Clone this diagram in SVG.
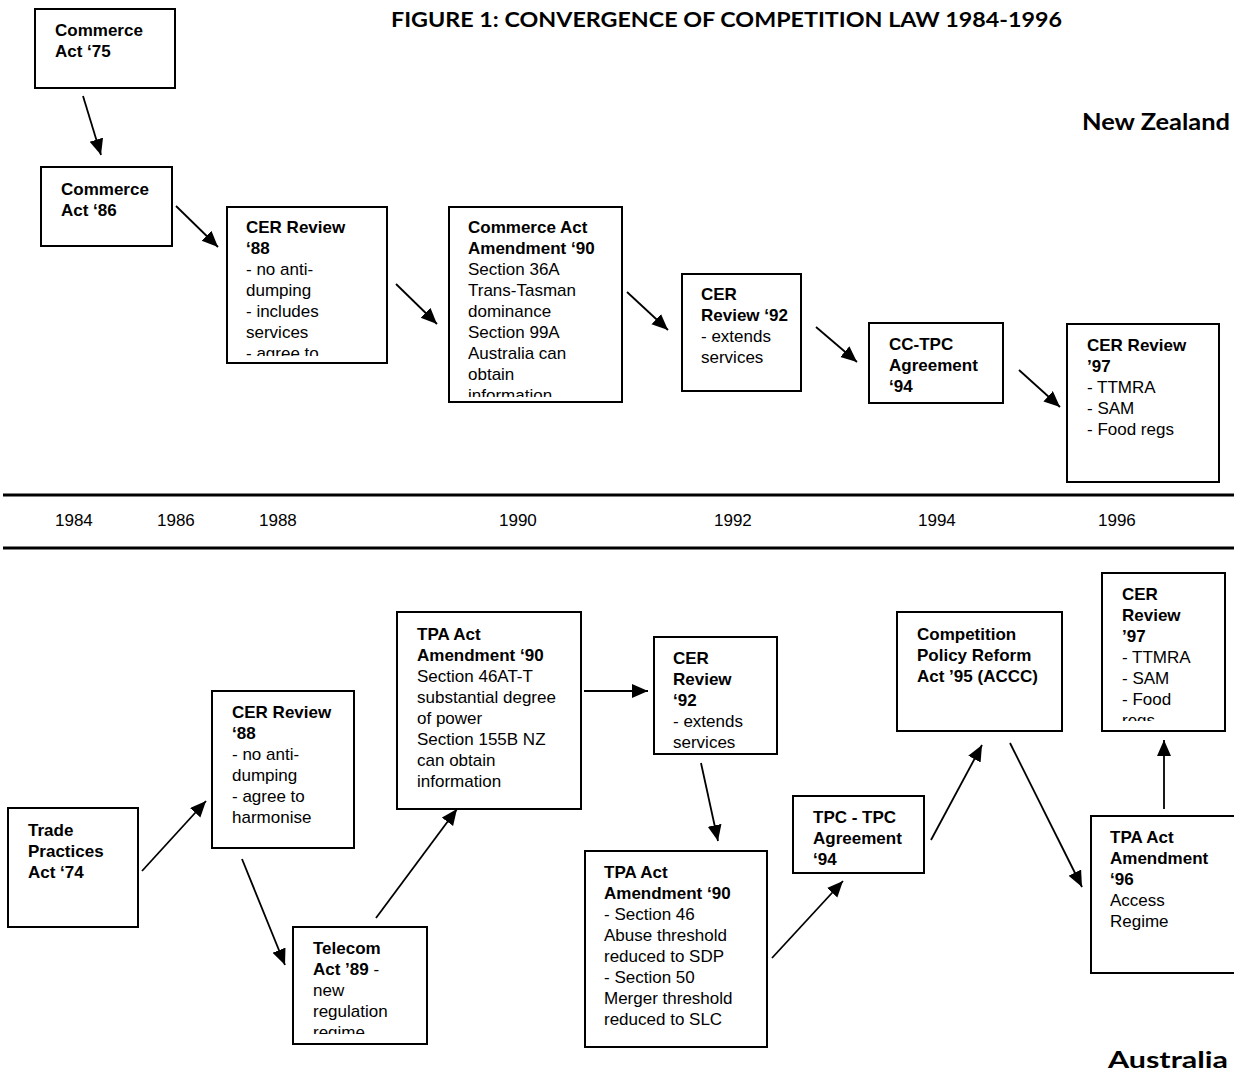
<svg xmlns="http://www.w3.org/2000/svg" width="1234" height="1073" viewBox="0 0 1234 1073">
<style>
.box{fill:#fff;stroke:#000;stroke-width:2}
.t{font-family:"Liberation Sans",Arial,sans-serif;font-size:17px;fill:#000}
.b{font-weight:bold}
.yr{font-family:"Liberation Sans",Arial,sans-serif;font-size:17px;fill:#000}
.hd{font-family:Lato,"Open Sans",sans-serif;font-weight:bold;fill:#000}
.cn line{stroke:#000;stroke-width:1.8;marker-end:url(#ah)}
.rule{stroke:#000;stroke-width:3}
</style>
<defs>
<marker id="ah" markerUnits="userSpaceOnUse" markerWidth="18" markerHeight="16" refX="16" refY="7" orient="auto">
<path d="M0,0 L16,7 L0,14 Z" fill="#000"/>
</marker>
<clipPath id="c1"><rect x="228" y="208" width="158" height="148"/></clipPath>
<clipPath id="c2"><rect x="450" y="208" width="171" height="189"/></clipPath>
<clipPath id="c3"><rect x="294" y="928" width="132" height="106"/></clipPath>
<clipPath id="c4"><rect x="655" y="638" width="121" height="110"/></clipPath>
<clipPath id="c5"><rect x="1103" y="574" width="121" height="147"/></clipPath>
</defs>
<rect width="1234" height="1073" fill="#fff"/>

<text class="hd" x="391" y="27" font-size="21" textLength="671" lengthAdjust="spacingAndGlyphs">FIGURE 1:  CONVERGENCE OF COMPETITION LAW 1984-1996</text>
<text class="hd" x="1082" y="130" font-size="22" textLength="148" lengthAdjust="spacingAndGlyphs">New Zealand</text>
<text class="hd" x="1108" y="1068" font-size="22" textLength="120" lengthAdjust="spacingAndGlyphs">Australia</text>

<g id="timeline">
<line class="rule" x1="3" y1="495" x2="1234" y2="495"/>
<line class="rule" x1="3" y1="548" x2="1234" y2="548"/>
<text class="yr" x="55" y="526">1984</text>
<text class="yr" x="157" y="526">1986</text>
<text class="yr" x="259" y="526">1988</text>
<text class="yr" x="499" y="526">1990</text>
<text class="yr" x="714" y="526">1992</text>
<text class="yr" x="918" y="526">1994</text>
<text class="yr" x="1098" y="526">1996</text>
</g>

<g id="nz-commerce-75">
<rect class="box" x="35" y="9" width="140" height="79"/>
<text class="t b" x="55" y="36">Commerce<tspan x="55" dy="21">Act ‘75</tspan></text>
</g>
<g id="nz-commerce-86">
<rect class="box" x="41" y="167" width="131" height="79"/>
<text class="t b" x="61" y="195">Commerce<tspan x="61" dy="21">Act ‘86</tspan></text>
</g>
<g id="nz-cer-88">
<rect class="box" x="227" y="207" width="160" height="156"/>
<text class="t" x="246" y="233" clip-path="url(#c1)"><tspan class="b">CER Review</tspan><tspan class="b" x="246" dy="21">‘88</tspan><tspan x="246" dy="21">- no anti-</tspan><tspan x="246" dy="21">dumping</tspan><tspan x="246" dy="21">- includes</tspan><tspan x="246" dy="21">services</tspan><tspan x="246" dy="21">- agree to</tspan></text>
</g>
<g id="nz-commerce-amend-90">
<rect class="box" x="449" y="207" width="173" height="195"/>
<text class="t" x="468" y="233" clip-path="url(#c2)"><tspan class="b">Commerce Act</tspan><tspan class="b" x="468" dy="21">Amendment ‘90</tspan><tspan x="468" dy="21">Section 36A</tspan><tspan x="468" dy="21">Trans-Tasman</tspan><tspan x="468" dy="21">dominance</tspan><tspan x="468" dy="21">Section 99A</tspan><tspan x="468" dy="21">Australia can</tspan><tspan x="468" dy="21">obtain</tspan><tspan x="468" dy="21">information</tspan></text>
</g>
<g id="nz-cer-92">
<rect class="box" x="682" y="274" width="119" height="117"/>
<text class="t" x="701" y="300"><tspan class="b">CER</tspan><tspan class="b" x="701" dy="21">Review ‘92</tspan><tspan x="701" dy="21">- extends</tspan><tspan x="701" dy="21">services</tspan></text>
</g>
<g id="nz-cc-tpc-94">
<rect class="box" x="869" y="323" width="134" height="80"/>
<text class="t b" x="889" y="350">CC-TPC<tspan x="889" dy="21">Agreement</tspan><tspan x="889" dy="21">‘94</tspan></text>
</g>
<g id="nz-cer-97">
<rect class="box" x="1067" y="324" width="152" height="158"/>
<text class="t" x="1087" y="351"><tspan class="b">CER Review</tspan><tspan class="b" x="1087" dy="21">’97</tspan><tspan x="1087" dy="21">- TTMRA</tspan><tspan x="1087" dy="21">- SAM</tspan><tspan x="1087" dy="21">- Food regs</tspan></text>
</g>

<g id="au-tpa-74">
<rect class="box" x="8" y="808" width="130" height="119"/>
<text class="t b" x="28" y="836">Trade<tspan x="28" dy="21">Practices</tspan><tspan x="28" dy="21">Act ‘74</tspan></text>
</g>
<g id="au-cer-88">
<rect class="box" x="212" y="691" width="142" height="157"/>
<text class="t" x="232" y="718"><tspan class="b">CER Review</tspan><tspan class="b" x="232" dy="21">‘88</tspan><tspan x="232" dy="21">- no anti-</tspan><tspan x="232" dy="21">dumping</tspan><tspan x="232" dy="21">- agree to</tspan><tspan x="232" dy="21">harmonise</tspan></text>
</g>
<g id="au-telecom-89">
<rect class="box" x="293" y="927" width="134" height="117"/>
<text class="t" x="313" y="954" clip-path="url(#c3)"><tspan class="b">Telecom</tspan><tspan class="b" x="313" dy="21">Act ’89</tspan><tspan> -</tspan><tspan x="313" dy="21">new</tspan><tspan x="313" dy="21">regulation</tspan><tspan x="313" dy="21">regime</tspan></text>
</g>
<g id="au-tpa-amend-90a">
<rect class="box" x="397" y="612" width="184" height="197"/>
<text class="t" x="417" y="640"><tspan class="b">TPA Act</tspan><tspan class="b" x="417" dy="21">Amendment ‘90</tspan><tspan x="417" dy="21">Section 46AT-T</tspan><tspan x="417" dy="21">substantial degree</tspan><tspan x="417" dy="21">of power</tspan><tspan x="417" dy="21">Section 155B NZ</tspan><tspan x="417" dy="21">can obtain</tspan><tspan x="417" dy="21">information</tspan></text>
</g>
<g id="au-cer-92">
<rect class="box" x="654" y="637" width="123" height="117"/>
<text class="t" x="673" y="664" clip-path="url(#c4)"><tspan class="b">CER</tspan><tspan class="b" x="673" dy="21">Review</tspan><tspan class="b" x="673" dy="21">‘92</tspan><tspan x="673" dy="21">- extends</tspan><tspan x="673" dy="21">services</tspan></text>
</g>
<g id="au-tpa-amend-90b">
<rect class="box" x="585" y="851" width="182" height="196"/>
<text class="t" x="604" y="878"><tspan class="b">TPA Act</tspan><tspan class="b" x="604" dy="21">Amendment ‘90</tspan><tspan x="604" dy="21">- Section 46</tspan><tspan x="604" dy="21">Abuse threshold</tspan><tspan x="604" dy="21">reduced to SDP</tspan><tspan x="604" dy="21">- Section 50</tspan><tspan x="604" dy="21">Merger threshold</tspan><tspan x="604" dy="21">reduced to SLC</tspan></text>
</g>
<g id="au-tpc-tpc-94">
<rect class="box" x="793" y="796" width="131" height="77"/>
<text class="t b" x="813" y="823">TPC - TPC<tspan x="813" dy="21">Agreement</tspan><tspan x="813" dy="21">‘94</tspan></text>
</g>
<g id="au-cpra-95">
<rect class="box" x="897" y="612" width="165" height="119"/>
<text class="t b" x="917" y="640">Competition<tspan x="917" dy="21">Policy Reform</tspan><tspan x="917" dy="21">Act ’95 (ACCC)</tspan></text>
</g>
<g id="au-cer-97">
<rect class="box" x="1102" y="573" width="123" height="158"/>
<text class="t" x="1122" y="600" clip-path="url(#c5)"><tspan class="b">CER</tspan><tspan class="b" x="1122" dy="21">Review</tspan><tspan class="b" x="1122" dy="21">’97</tspan><tspan x="1122" dy="21">- TTMRA</tspan><tspan x="1122" dy="21">- SAM</tspan><tspan x="1122" dy="21">- Food</tspan><tspan x="1122" dy="21">regs</tspan></text>
</g>
<g id="au-tpa-amend-96">
<rect class="box" x="1091" y="816" width="150" height="157"/>
<text class="t" x="1110" y="843"><tspan class="b">TPA Act</tspan><tspan class="b" x="1110" dy="21">Amendment</tspan><tspan class="b" x="1110" dy="21">‘96</tspan><tspan x="1110" dy="21">Access</tspan><tspan x="1110" dy="21">Regime</tspan></text>
</g>

<g id="connectors" class="cn">
<line x1="83" y1="96" x2="101" y2="155"/>
<line x1="176" y1="206" x2="218" y2="247"/>
<line x1="396" y1="284" x2="437" y2="324"/>
<line x1="627" y1="292" x2="668" y2="330"/>
<line x1="816" y1="327" x2="857" y2="362"/>
<line x1="1019" y1="370" x2="1060" y2="407"/>
<line x1="142" y1="871" x2="206" y2="801"/>
<line x1="242" y1="859" x2="285" y2="965"/>
<line x1="376" y1="918" x2="457" y2="809"/>
<line x1="584" y1="691" x2="648" y2="691"/>
<line x1="701" y1="763" x2="718" y2="841"/>
<line x1="772" y1="958" x2="843" y2="881"/>
<line x1="931" y1="840" x2="982" y2="745"/>
<line x1="1010" y1="743" x2="1082" y2="887"/>
<line x1="1164" y1="809" x2="1164" y2="740"/>
</g>
</svg>
